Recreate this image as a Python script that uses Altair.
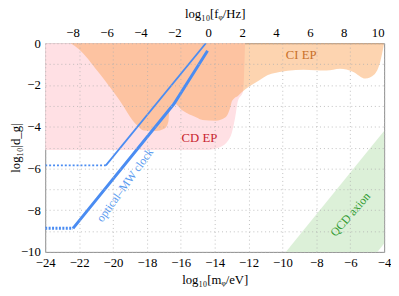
import altair as alt
import pandas as pd

# ---------------- data ----------------
# CD EP (pink) region: lower boundary, region extends up to log10|d_g| = 0
cd_m = [-24.0, -14.52, -13.83, -13.27, -12.98, -12.79, -12.63, -12.32, -12.21]
cd_d = [-5.12, -5.12, -5.02, -4.73, -4.26, -3.55, -2.77, -2.30, 0.0]

# CI EP (orange) region: lower boundary, region extends up to 0
ci_m = [-22.51, -22.03, -20.88, -19.72, -18.57, -18.18, -17.51, -16.95, -16.73,
        -16.66, -16.45, -15.87, -15.10, -14.71, -13.94, -13.36, -13.08, -12.98,
        -12.60, -12.21, -11.63, -10.65, -8.74, -7.41, -6.60, -5.85, -5.10,
        -4.58, -4.23, -4.00]
ci_d = [0.0, -0.27, -1.36, -2.61, -3.94, -4.18, -4.20, -4.08, -3.75,
        -3.08, -2.85, -3.24, -3.55, -3.68, -3.71, -3.55, -3.08, -2.77,
        -2.50, -2.22, -1.91, -1.46, -1.27, -1.31, -1.22, -1.36, -1.69,
        -1.50, -0.89, 0.0]

# QCD axion band
qcd_m = [-9.8, -4.4, -4.0]
qcd_hi = [-10.0, -4.6, -4.2]
qcd_lo = [-10.0, -10.0, -9.6]

# optical-MW clock lines
thin_dot_m = [-24.0, -20.42]
thin_dot_d = [-5.85, -5.85]
thin_m = [-20.42, -14.52]
thin_d = [-5.85, 0.0]
thick_dot_m = [-24.0, -22.36]
thick_dot_d = [-8.87, -8.87]
thick_m = [-22.36, -16.40, -14.42]
thick_d = [-8.87, -2.90, -0.36]

# axis ticks
m_ticks = [-24, -22, -20, -18, -16, -14, -12, -10, -8, -6, -4]
d_ticks = [-10, -9, -8, -7, -6, -5, -4, -3, -2, -1, 0]
f_ticks = [-8, -6, -4, -2, 0, 2, 4, 6, 8, 10]
F_OFFSET = 14.383  # log10(eV/h in Hz)

labels_text = ["CI EP", "CD EP", "QCD axion", "optical–MW clock"]
labels_m = [-8.9, -14.9, -6.0, -19.3]
labels_d = [-0.56, -4.55, -8.2, -6.8]

FONT = "Liberation Serif"
XD = [-24, -4]
YD = [-10, 0]

xs = alt.Scale(domain=XD, nice=False, zero=False)
ys = alt.Scale(domain=YD, nice=False, zero=False)

xaxis = alt.Axis(values=m_ticks, title="log₁₀[mᵩ/eV]",
                 grid=True, gridDash=[1, 3], gridColor="#b0b0b0", gridWidth=0.8,
                 domain=False, ticks=False, labelPadding=5, titlePadding=4,
                 labelOverlap=False, labelFlush=False, zindex=1)
yaxis = alt.Axis(values=d_ticks,
                 labelExpr="datum.value % 2 == 0 ? datum.label : ''",
                 title="log₁₀|d_g|", titleX=-23,
                 grid=True, gridDash=[1, 3], gridColor="#b0b0b0", gridWidth=0.8,
                 domain=False, ticks=False, labelPadding=5,
                 labelOverlap=False, labelFlush=False, zindex=1)


def X(field):
    return alt.X(field, scale=xs, axis=xaxis)


def Y(field):
    return alt.Y(field, scale=ys, axis=yaxis)


cd_df = pd.DataFrame({"m": cd_m, "d": cd_d, "top": 0.0})
ci_df = pd.DataFrame({"m": ci_m, "d": ci_d, "top": 0.0})
qcd_df = pd.DataFrame({"m": qcd_m, "hi": qcd_hi, "lo": qcd_lo})

cd = alt.Chart(cd_df).mark_area(color="#FFE0E4", interpolate="monotone").encode(
    x=X("m:Q"), y=Y("d:Q"), y2="top:Q")
ci = alt.Chart(ci_df).mark_area(color="#FBA050", opacity=0.45, interpolate="monotone").encode(
    x=X("m:Q"), y=Y("d:Q"), y2="top:Q")
qcd = alt.Chart(qcd_df).mark_area(color="#DCF0D8").encode(
    x=X("m:Q"), y=Y("hi:Q"), y2="lo:Q")

BLUE = "#4A8CF2"


def line(ms, ds, width, dash=None):
    df = pd.DataFrame({"m": ms, "d": ds})
    kw = dict(color=BLUE, strokeWidth=width, clip=True)
    if dash:
        kw["strokeDash"] = dash
    return alt.Chart(df).mark_line(**kw).encode(x=X("m:Q"), y=Y("d:Q"))


lines = [
    line(thin_dot_m, thin_dot_d, 1.8, [2, 2]),
    line(thin_m, thin_d, 1.8),
    line(thick_dot_m, thick_dot_d, 3, [2, 1.5]),
    line(thick_m, thick_d, 3),
]

lab_df = pd.DataFrame({"t": labels_text, "m": labels_m, "d": labels_d})


def label(i, color, angle=0, size=12):
    return alt.Chart(lab_df.iloc[[i]]).mark_text(
        font=FONT, fontSize=size, color=color, angle=angle
    ).encode(x=X("m:Q"), y=Y("d:Q"), text="t:N")


texts = [
    label(0, "#C8702A", size=13),
    label(1, "#C81E2E", size=13),
    label(2, "#2E9A2E", angle=311, size=12),
    label(3, "#5A9BF0", angle=306, size=12),
]

top_df = pd.DataFrame({"f": f_ticks})
top = alt.Chart(top_df).mark_point(opacity=0).encode(
    x=alt.X("f:Q", scale=alt.Scale(domain=[XD[0] + F_OFFSET, XD[1] + F_OFFSET], nice=False, zero=False),
            axis=alt.Axis(orient="top", values=f_ticks, title="log₁₀[fᵩ/Hz]",
                          grid=False, domain=False, ticks=False, labelPadding=4,
                          labelOverlap=False, labelFlush=False,
                          titlePadding=6, format="d")),
)

base = alt.layer(cd, ci, qcd, *lines, *texts).properties(width=346, height=213)
chart = alt.layer(base, top).resolve_scale(x="independent").properties(
    autosize=alt.AutoSizeParams(type="none"),
    padding={"left": 38, "top": 33, "right": 7, "bottom": 42},
).configure_view(stroke="#8a8a8a", strokeWidth=1).configure_axis(
    labelFont=FONT, titleFont=FONT, labelFontSize=13, titleFontSize=13,
    labelColor="#000", titleColor="#000", titleFontWeight="normal",
)

chart.save("out.html", embed_options={"renderer": "svg", "actions": False})
